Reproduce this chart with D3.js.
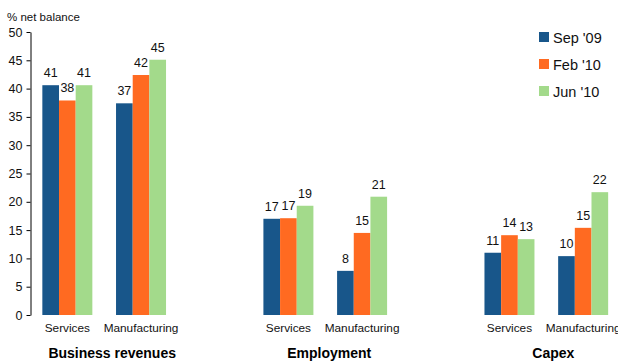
<!DOCTYPE html>
<html><head><meta charset="utf-8">
<script src="https://cdn.jsdelivr.net/npm/d3@7"></script>
<style>body{margin:0;background:#fff}svg{display:block;font-family:"Liberation Sans",Arial,sans-serif}</style>
</head><body>
<svg id="c" width="618" height="361"></svg>
<script>
const slots = ["BR-Services","BR-Manufacturing","gap1","EM-Services","EM-Manufacturing","gap2","CX-Services","CX-Manufacturing"];
const catLabels = ["Services","Manufacturing","Services","Manufacturing","Services","Manufacturing"];
const catSlots = ["BR-Services","BR-Manufacturing","EM-Services","EM-Manufacturing","CX-Services","CX-Manufacturing"];
const groups = ["Business revenues","Employment","Capex"];
const series = ["Sep '09","Feb '10","Jun '10"];
const colors = ["#18568A","#FF6A21","#A3DA8B"];
const sep09 = [40.6, 37.4, 17.0, 7.8, 11.0, 10.4];
const feb10 = [37.9, 42.4, 17.1, 14.5, 14.1, 15.4];
const jun10 = [40.6, 45.1, 19.3, 20.9, 13.4, 21.7];
const yTicks = [0,5,10,15,20,25,30,35,40,45,50];

const svg = d3.select("#c");
const x = d3.scaleBand().domain(slots).range([30.5, 620]);
const y = d3.scaleLinear().domain([0,50]).range([315, 32]);
const inner = d3.scaleBand().domain(series).range([0, 50]);
const off = (x.bandwidth()-50)/2;

const vals = [sep09, feb10, jun10];
series.forEach((s,si)=>{
  const g = svg.append("g");
  catSlots.forEach((c,ci)=>{
    const v = vals[si][ci];
    const bx = x(c)+off+inner(s);
    g.append("rect").attr("x",bx).attr("y",y(v)).attr("width",inner.bandwidth()).attr("height",y(0)-y(v)).attr("fill",colors[si]);
    g.append("text").attr("x",bx+inner.bandwidth()/2).attr("y",y(v)-8).attr("text-anchor","middle")
      .attr("font-size",12.5).attr("fill","#111").text(Math.round(v));
  });
});

// y axis
const ya = svg.append("g").attr("transform","translate(30.5,0)")
  .call(d3.axisLeft(y).tickValues(yTicks).tickSize(4).tickSizeOuter(0));
ya.select(".domain").attr("stroke","#000");
ya.selectAll(".tick line").attr("stroke","#000");
ya.selectAll(".tick text").attr("font-size",12.5).attr("fill","#111").attr("font-family","Liberation Sans, Arial, sans-serif").attr("x",-8);

svg.append("text").attr("x",7).attr("y",21).attr("font-size",11.5).attr("fill","#111").text("% net balance");

// category labels
catSlots.forEach((c,i)=>{
  svg.append("text").attr("x",x(c)+x.bandwidth()/2).attr("y",332).attr("text-anchor","middle")
    .attr("font-size",11.8).attr("fill","#111").text(catLabels[i]);
});
// group labels
const gOff = [8, 4, 7];
groups.forEach((gname,gi)=>{
  const a = x(catSlots[gi*2])+x.bandwidth()/2, b = x(catSlots[gi*2+1])+x.bandwidth()/2;
  svg.append("text").attr("x",(a+b)/2+gOff[gi]).attr("y",358).attr("text-anchor","middle")
    .attr("font-size",14).attr("font-weight","bold").attr("fill","#000").text(gname);
});

// legend
const lg = svg.append("g").attr("transform","translate(539,32)");
series.forEach((s,i)=>{
  lg.append("rect").attr("x",0).attr("y",i*27).attr("width",10).attr("height",10).attr("fill",colors[i]);
  lg.append("text").attr("x",14).attr("y",i*27+10.5).attr("font-size",14.5).attr("fill","#111").text(s);
});
</script>
</body></html>
